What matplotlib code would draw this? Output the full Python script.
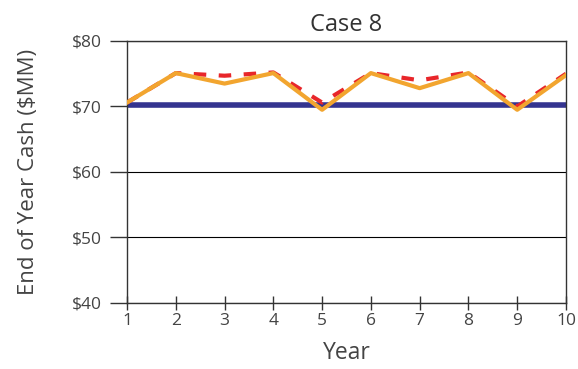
import matplotlib.pyplot as plt

plt.rcParams['font.family'] = ['Open Sans', 'DejaVu Sans']

years = [1, 2, 3, 4, 5, 6, 7, 8, 9, 10]
baseline = [70.2] * 10
dashed_case = [70.6, 75.1, 74.7, 75.2, 70.6, 75.1, 74.0, 75.2, 70.0, 75.0]
solid_case = [70.6, 75.1, 73.5, 75.1, 69.5, 75.1, 72.8, 75.1, 69.5, 74.8]
y_ticks = [40, 50, 60, 70, 80]

fig = plt.figure(figsize=(5.78, 3.69), dpi=100)
ax = fig.add_axes([127 / 578, 1 - 303 / 369, 439 / 578, 262 / 369])

for y in y_ticks:
    ax.axhline(y, color='black', linewidth=0.8, zorder=1)

ax.plot(years, baseline, color='#343490', linewidth=4, zorder=2)
ax.plot(years, dashed_case, color='#e8262a', linewidth=3, linestyle=(0, (3, 3)), zorder=3)
ax.plot(years, solid_case, color='#f2a52f', linewidth=3, zorder=4)

ax.set_xlim(1, 10)
ax.set_ylim(40, 80)
ax.set_xticks(years)
ax.set_yticks(y_ticks)
ax.set_yticklabels([f'${v}' for v in y_ticks])
ax.tick_params(axis='x', direction='inout', length=10, width=1, labelsize=12.5, colors='#333333',
               labelcolor='#444444', pad=2)
ax.tick_params(axis='y', direction='out', length=12, width=1, labelsize=12.5, colors='#333333',
               labelcolor='#444444', pad=6)
for s in ax.spines.values():
    s.set_color('#333333')
    s.set_linewidth(1)

ax.set_title('Case 8', fontsize=17, color='#333333', pad=7)
ax.set_xlabel('Year', fontsize=16.5, color='#444444', labelpad=9)
ax.set_ylabel('End of Year Cash ($MM)', fontsize=16, color='#444444', labelpad=24)

fig.savefig('out.png', dpi=100)
